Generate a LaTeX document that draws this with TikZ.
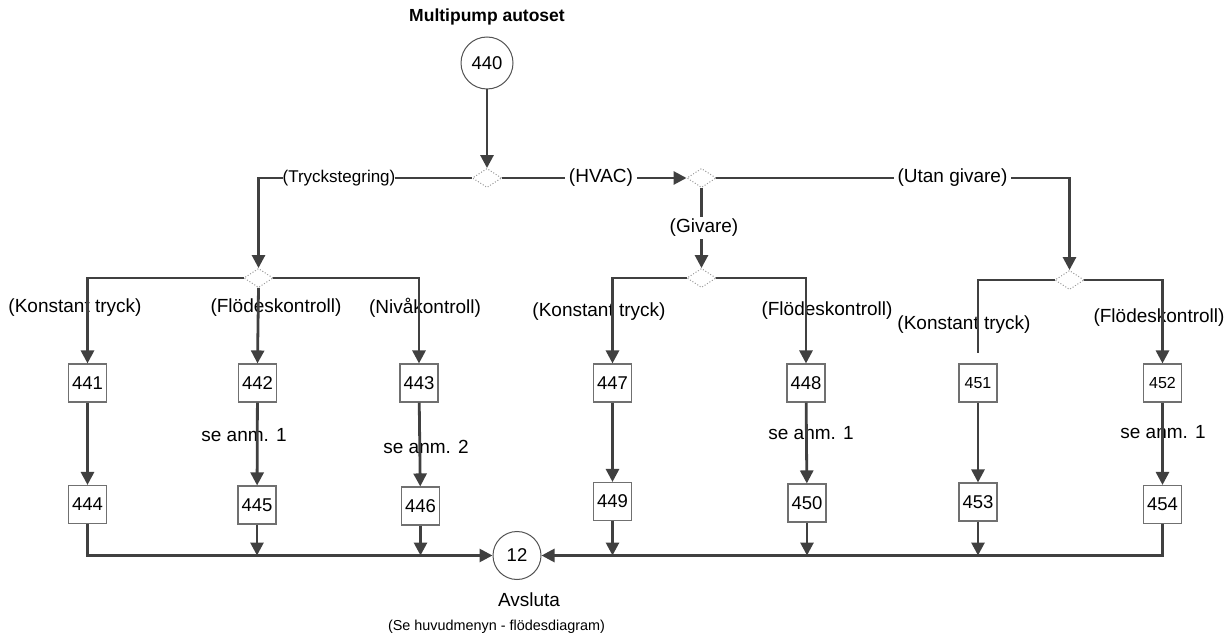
\documentclass[tikz,border=0pt]{standalone}
\usepackage{fontspec}
\setmainfont{Liberation Sans}
\usetikzlibrary{arrows.meta,shapes.geometric}
\definecolor{ln}{HTML}{404040}
\definecolor{bx}{HTML}{707070}
\definecolor{dm}{HTML}{9A9A9A}
\tikzset{
  box/.style={draw=bx,line width=1.1bp,fill=white,minimum width=38bp,minimum height=38bp,inner sep=0pt,font=\fontsize{18.5bp}{20bp}\selectfont},
  sbox/.style={box,font=\fontsize{16bp}{18bp}\selectfont},
  circ/.style={draw=ln!90,line width=1bp,circle,minimum size=52bp,inner sep=0pt,font=\fontsize{18.5bp}{20bp}\selectfont},
  dia/.style={draw=dm,dotted,line width=0.9bp,diamond,fill=white,minimum width=29bp,minimum height=19bp,inner sep=0pt,aspect=1.5},
  lbl/.style={inner sep=0pt,font=\fontsize{19bp}{21bp}\selectfont},
  wlbl/.style={lbl,fill=white,inner xsep=4bp,inner ysep=2bp},
  conn/.style={draw=ln,line width=2.8bp},
  arr/.style={conn,-{Triangle[length=13bp,width=13bp]}},
}
\begin{document}
\begin{tikzpicture}[x=1bp,y=-1bp]
\useasboundingbox (0,0) rectangle (1228,639);
% title
\node[lbl,font=\fontsize{17.5bp}{20bp}\selectfont\bfseries] (title) at (487,17) {Multipump autoset};
% branch labels (under lines)
\node[lbl] (lk1) at (75,308) {(Konstant tryck)};
\node[lbl] (lf1) at (276,308) {(Flödeskontroll)};
\node[lbl] (ln1) at (425,308) {(Nivåkontroll)};
\node[lbl] (lk2) at (599,312) {(Konstant tryck)};
\node[lbl] (lf2) at (827,311) {(Flödeskontroll)};
\node[lbl] (lk3) at (964,325) {(Konstant tryck)};
\node[lbl] (lf3) at (1159,318) {(Flödeskontroll)};
\node[lbl] (sa1) at (244,435) {se anm. 1};
\node[lbl] (sa2) at (426,447) {se anm. 2};
\node[lbl] (sa3) at (811,433) {se anm. 1};
\node[lbl] (sa4) at (1163,432) {se anm. 1};
% nodes
\node[circ] (n440) at (487,63) {440};
\node[circ,minimum size=48bp] (n12) at (517,555.5) {12};
\node[lbl] (avs) at (529,600) {Avsluta};
\node[lbl,font=\fontsize{14.4bp}{16bp}\selectfont] (sehuv) at (496.5,627) {(Se huvudmenyn - flödesdiagram)};
\node[dia] (d1) at (487,178) {};
\node[dia] (d2) at (258.5,278) {};
\node[dia] (d3) at (701.5,178) {};
\node[dia] (d4) at (701.5,278) {};
\node[dia] (d5) at (1069.5,280) {};
\node[box] (n441) at (87.5,383) {441};
\node[box] (n442) at (257.5,383) {442};
\node[box] (n443) at (419,383) {443};
\node[box] (n444) at (87.5,504.5) {444};
\node[box] (n445) at (257,505) {445};
\node[box] (n446) at (420.5,506) {446};
\node[box] (n447) at (612.5,383) {447};
\node[box] (n448) at (806,383) {448};
\node[box] (n449) at (612.5,501.5) {449};
\node[box] (n450) at (807,503) {450};
\node[sbox] (n451) at (978,383) {451};
\node[sbox] (n452) at (1162.5,383) {452};
\node[box] (n453) at (978,502) {453};
\node[box] (n454) at (1162.5,504.5) {454};
\coordinate (c451) at (978,353);
\coordinate (cug) at (1069.5,240);
% connectors
\draw[arr] (n440) -- (d1.north);
\draw[arr] (d1.west) -| (d2.north);
\draw[arr] (d1.east) -- (d3.west);
\draw[arr] (d3.east) -| (d5.north);
\draw[arr] (d3.south) -- (d4.north);
\draw[arr] (d2.west) -| (n441.north);
\draw[arr] (d2.south) -- (n442.north);
\draw[arr] (d2.east) -| (n443.north);
\draw[arr] (d4.west) -| (n447.north);
\draw[arr] (d4.east) -| (n448.north);
\draw[conn] (d5.west) -| (c451);
\draw[arr] (d5.east) -| (n452.north);
\draw[arr] (n441) -- (n444);
\draw[arr] (n442) -- (n445);
\draw[arr] (n443) -- (n446);
\draw[arr] (n447) -- (n449);
\draw[arr] (n448) -- (n450);
\draw[arr] (n451) -- (n453);
\draw[arr] (n452) -- (n454);
\draw[arr] (n444.south) |- (n12.west);
\draw[arr] (n445.south) -- (n445.south |- n12.west);
\draw[arr] (n446.south) -- (n446.south |- n12.west);
\draw[arr] (n454.south) |- (n12.east);
\draw[arr] (n449.south) -- (n449.south |- n12.east);
\draw[arr] (n450.south) -- (n450.south |- n12.east);
\draw[arr] (n453.south) -- (n453.south |- n12.east);
% redraw diamonds on top of line ends
\node[dia] at (d1) {};
\node[dia] at (d2) {};
\node[dia] at (d3) {};
\node[dia] at (d4) {};
\node[dia] at (d5) {};
% labels with white background on lines
\node[wlbl,inner xsep=0pt,font=\fontsize{17bp}{19bp}\selectfont] (ltr) at (339,178) {(Tryckstegring)};
\node[wlbl] (lhv) at (601,178) {(HVAC)};
\node[wlbl] (lug) at (952.5,178) {(Utan givare)};
\node[wlbl,inner xsep=1bp] (lgi) at (704,228) {(Givare)};
\end{tikzpicture}
\end{document}
